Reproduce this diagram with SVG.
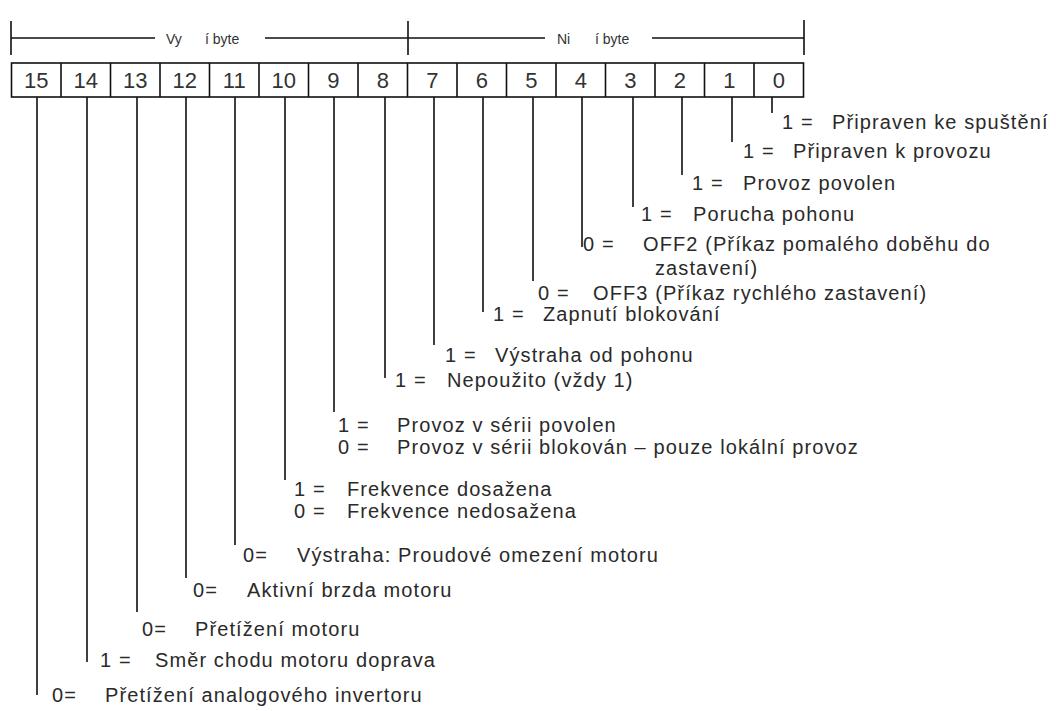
<svg xmlns="http://www.w3.org/2000/svg" width="1056" height="711" viewBox="0 0 1056 711">
<style>
.ln{stroke:#111;stroke-width:1.6;fill:none}
.cell{stroke:#111;stroke-width:1.6;fill:#fff}
.num{font-family:"Liberation Sans",Arial,sans-serif;font-size:22px;fill:#333;text-anchor:middle}
.hdr{font-family:"Liberation Sans",Arial,sans-serif;font-size:14px;fill:#333}
.lbl{font-family:"Liberation Sans",Arial,sans-serif;font-size:20px;letter-spacing:1.1px;fill:#2a2a2a}
</style>
<rect width="1056" height="711" fill="#fff"/>
<g id="header">
<path class="ln" d="M11 21V55M408 21V55M804 20V55M11 38H155M265 38H408M408 38H545M652 38H804"/>
<text class="hdr" x="166" y="44">Vy</text><text class="hdr" x="205" y="44">í byte</text>
<text class="hdr" x="557" y="44">Ni</text><text class="hdr" x="595" y="44">í byte</text>
</g>
<g id="register">
<rect class="cell" x="11.5" y="63" width="792" height="34"/>
<path class="ln" d="M61 63V97M110.5 63V97M160 63V97M209.5 63V97M259 63V97M308.5 63V97M358 63V97M407.5 63V97M457 63V97M506.5 63V97M556 63V97M605.5 63V97M655 63V97M704.5 63V97M754 63V97"/>
<text class="num" x="36.25" y="88">15</text>
<text class="num" x="85.75" y="88">14</text>
<text class="num" x="135.25" y="88">13</text>
<text class="num" x="184.75" y="88">12</text>
<text class="num" x="234.25" y="88">11</text>
<text class="num" x="283.75" y="88">10</text>
<text class="num" x="333.25" y="88">9</text>
<text class="num" x="382.75" y="88">8</text>
<text class="num" x="432.25" y="88">7</text>
<text class="num" x="481.75" y="88">6</text>
<text class="num" x="531.25" y="88">5</text>
<text class="num" x="580.75" y="88">4</text>
<text class="num" x="630.25" y="88">3</text>
<text class="num" x="679.75" y="88">2</text>
<text class="num" x="729.25" y="88">1</text>
<text class="num" x="778.75" y="88">0</text>
</g>
<g id="connectors">
<path class="ln" d="M772 97V113M732 97V142M682 97V175M633 97V207M582 97V247M533 97V281M483 97V312M434 97V345M385 97V378M334 97V412M285 97V480M235 97V545M186 97V578M137 97V612M87 97V662M37 97V695"/>
</g>
<g id="bit0"><text class="lbl" y="129"><tspan x="782">1 =</tspan><tspan x="832">Připraven ke spuštění</tspan></text></g>
<g id="bit1"><text class="lbl" y="158"><tspan x="743">1 =</tspan><tspan x="793">Připraven k provozu</tspan></text></g>
<g id="bit2"><text class="lbl" y="190"><tspan x="692">1 =</tspan><tspan x="743">Provoz povolen</tspan></text></g>
<g id="bit3"><text class="lbl" y="221"><tspan x="641">1 =</tspan><tspan x="693">Porucha pohonu</tspan></text></g>
<g id="bit4"><text class="lbl" y="251"><tspan x="583">0 =</tspan><tspan x="643">OFF2 (Příkaz pomalého doběhu do</tspan></text><text class="lbl" x="655" y="275">zastavení)</text></g>
<g id="bit5"><text class="lbl" y="300"><tspan x="538">0 =</tspan><tspan x="593">OFF3 (Příkaz rychlého zastavení)</tspan></text></g>
<g id="bit6"><text class="lbl" y="321"><tspan x="493">1 =</tspan><tspan x="543">Zapnutí blokování</tspan></text></g>
<g id="bit7"><text class="lbl" y="362"><tspan x="445">1 =</tspan><tspan x="495">Výstraha od pohonu</tspan></text></g>
<g id="bit8"><text class="lbl" y="387"><tspan x="395">1 =</tspan><tspan x="447">Nepoužito (vždy 1)</tspan></text></g>
<g id="bit9"><text class="lbl" y="432"><tspan x="338">1 =</tspan><tspan x="397">Provoz v sérii povolen</tspan></text><text class="lbl" y="454"><tspan x="338">0 =</tspan><tspan x="397">Provoz v sérii blokován – pouze lokální provoz</tspan></text></g>
<g id="bit10"><text class="lbl" y="496"><tspan x="294">1 =</tspan><tspan x="347">Frekvence dosažena</tspan></text><text class="lbl" y="518"><tspan x="294">0 =</tspan><tspan x="347">Frekvence nedosažena</tspan></text></g>
<g id="bit11"><text class="lbl" y="562"><tspan x="243">0=</tspan><tspan x="297">Výstraha: Proudové omezení motoru</tspan></text></g>
<g id="bit12"><text class="lbl" y="597"><tspan x="193">0=</tspan><tspan x="247">Aktivní brzda motoru</tspan></text></g>
<g id="bit13"><text class="lbl" y="636"><tspan x="142">0=</tspan><tspan x="195">Přetížení motoru</tspan></text></g>
<g id="bit14"><text class="lbl" y="667"><tspan x="100">1 =</tspan><tspan x="155">Směr chodu motoru doprava</tspan></text></g>
<g id="bit15"><text class="lbl" y="702"><tspan x="52">0=</tspan><tspan x="105">Přetížení analogového invertoru</tspan></text></g>
</svg>
